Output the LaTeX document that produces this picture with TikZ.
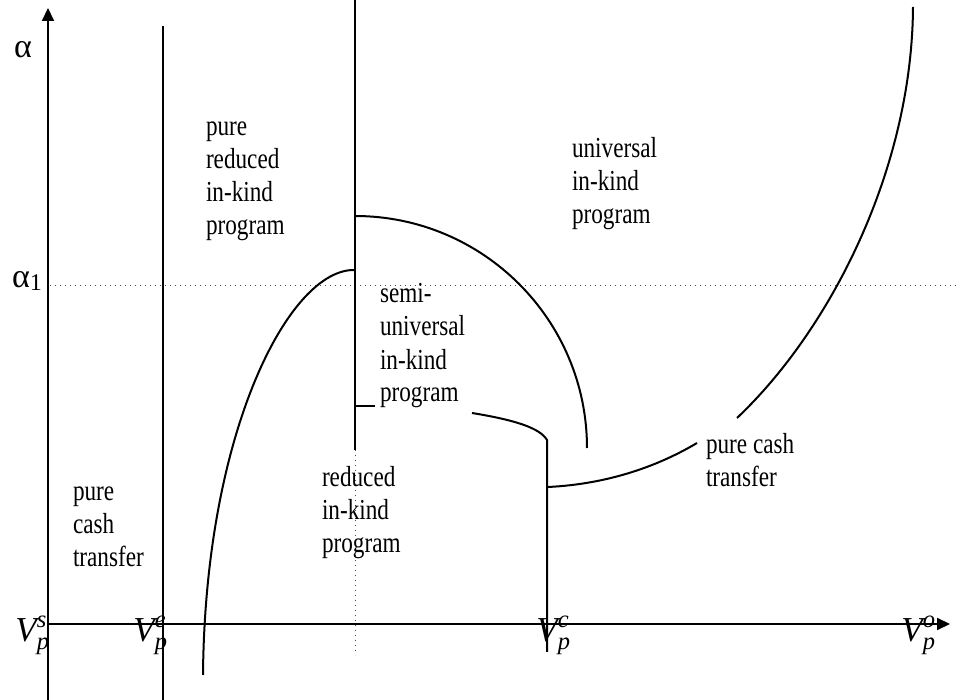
\documentclass[tikz,border=0pt]{standalone}
\usepackage{amsmath}
\usepackage{fontspec}
\setmainfont{Liberation Serif}[FakeStretch=0.8]
\newfontfamily\labelfont{Liberation Serif}
\usetikzlibrary{arrows.meta}
\newcommand{\Vlab}[1]{$\textit{V}_{\textit{p}}^{\textit{#1}}$}
\newcommand{\topline}{\rule{0pt}{10pt}}

\begin{document}
\begin{tikzpicture}[x=0.5pt, y=-0.5pt, line width=1pt,
  region/.style={anchor=north west, inner sep=0pt, align=left, font=\fontsize{14.5}{16.5}\selectfont},
  axlabel/.style={anchor=base east, inner sep=0pt, font=\labelfont\fontsize{17.5}{19}\selectfont},
  greek/.style={inner sep=0pt, font=\labelfont\fontsize{17}{18}\selectfont},
  guide/.style={dotted, line width=0.5pt, black!70},
  >={Triangle[length=6.5pt,width=6pt]}]
\useasboundingbox (0,0) rectangle (960,700);
% guides
\draw[guide] (50,286) -- (960,286);
\draw[guide] (355,450) -- (355,655);
% axes
\draw[->] (48,700) -- (48,8);
\draw[->] (48,624) -- (950,624);
\node[greek] (lblalpha) at (23,50) {α};
\node[greek] (lblalphaone) at (27,281) {α\raisebox{-1.5pt}{\fontsize{12}{12}\selectfont 1}};
\node[axlabel] (lblVs) at (51,641) {\Vlab{s}};
\node[axlabel] (lblVe) at (169,641) {\Vlab{e}};
\node[axlabel] (lblVc) at (572,641) {\Vlab{c}};
\node[axlabel] (lblVo) at (937,641) {\Vlab{o}};
% boundaries
\draw (163,26) -- (163,700);
\draw (355,0) -- (355,450);
\draw (203,675) .. controls (205,430) and (290,268) .. (355,270);
\draw (355,216) arc[start angle=-90, end angle=0, radius=232];
\draw (355,406) -- (375,406);
\draw (472,413) .. controls (515,420) and (540,428) .. (547,440) -- (547,652);
\draw (548,487) .. controls (610,484) and (660,465) .. (697,443);
\draw (737,418) .. controls (830,330) and (912,170) .. (913,7);
% regions
\node[region] (pcash) at (72,480) {\topline pure\\cash\\transfer};
\node[region] (prik) at (205,115) {\topline pure\\reduced\\in-kind\\program};
\node[region] (uik) at (571,136) {\topline universal\\in-kind\\program};
\node[region] (semi) at (379,282) {\topline semi-\\universal\\in-kind\\program};
\node[region] (rik) at (321,465) {\topline reduced\\in-kind\\program};
\node[region] (pcashr) at (705,432) {\topline pure cash\\transfer};
\end{tikzpicture}
\end{document}
